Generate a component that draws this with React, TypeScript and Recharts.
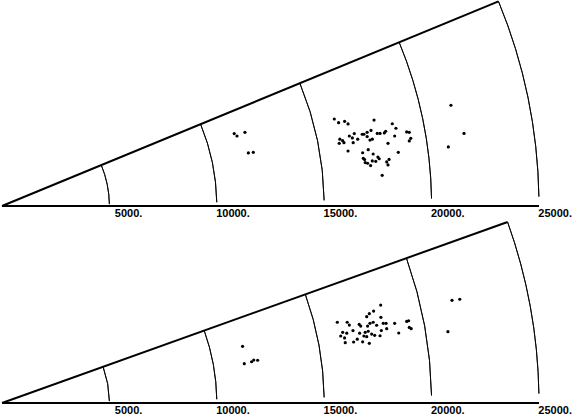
import { ScatterChart, Scatter, XAxis, YAxis, ReferenceLine, PieChart, Pie } from 'recharts';

// velocity (km/s) cone, x along the axis, y across it
const topX = [20900, 15470, 15670, 15950, 16110, 17320, 18170, 18340, 21510, 20780, 16170, 16400, 16310, 16560, 16350, 15730, 15860, 15700, 15920, 16770, 16850, 17000, 17180, 17000, 17130, 17240, 17470, 17600, 17800, 17860, 18280, 17970, 18840, 18960, 19030, 18960, 16110, 16790, 17050, 17280, 18450, 16820, 16880, 17500, 17560, 17240, 17400, 16910, 17020, 17160, 17910, 18020, 17970, 17700, 10810, 10940, 11310, 11470, 11700];
const topY = [4690, 4050, 3880, 3940, 3820, 4000, 3830, 3620, 3380, 2750, 3260, 3370, 3170, 3110, 2950, 3110, 3040, 2920, 2950, 3340, 3340, 3430, 3520, 3230, 3070, 3110, 3380, 3380, 3400, 3480, 3260, 2920, 3450, 3430, 3150, 3030, 2560, 2480, 2620, 2420, 2500, 2220, 2160, 2280, 2200, 2100, 2080, 2020, 1990, 1880, 2050, 2170, 1910, 1430, 3370, 3260, 3430, 2470, 2500];

const bottomX = [17630, 17300, 17100, 16980, 17640, 15610, 16070, 16170, 16630, 16700, 17130, 17280, 17020, 17440, 17750, 17880, 18280, 18840, 18930, 18960, 19050, 17910, 17660, 16340, 16650, 16910, 17050, 15860, 16050, 15770, 15950, 16850, 17210, 17350, 17600, 18470, 16540, 16370, 16790, 15980, 17100, 20950, 21310, 20760, 16980, 11200, 11280, 11620, 11720, 11900];
const bottomY = [4560, 4280, 4160, 4020, 3990, 3760, 3760, 3630, 3660, 3580, 3710, 3760, 3580, 3620, 3710, 3710, 3710, 3800, 3830, 3520, 3460, 3460, 3370, 3370, 3250, 3290, 3340, 3290, 3250, 3120, 3030, 3120, 3210, 3150, 3130, 3260, 2970, 2840, 2850, 2810, 2780, 4780, 4830, 3320, 3090, 2640, 1830, 1920, 2000, 1990];

const ringRadii = [5000, 10000, 15000, 20000, 25000];
const tickValues = [5000, 10000, 15000, 20000, 25000];

const MAX_V = 25000;
const PLOT_W = 537;
const K = PLOT_W / MAX_V;
const LEFT = 2;
const RIGHT = 574 - LEFT - PLOT_W;
const AXIS_H = 20;

const toPoints = (xs: number[], ys: number[]) => xs.map((x, i) => ({ x, y: ys[i] }));

const Tick = ({ x, y, payload }: any) => (
  <text x={x + 33} y={y} dy={3} textAnchor="end" fontFamily="'Liberation Sans', Arial, sans-serif" fontWeight="bold" fontSize={11} fill="#000">
    {payload.value}.
  </text>
);

const Dot = ({ cx, cy }: any) => <circle cx={cx} cy={cy} r={1.6} fill="#000" />;

const Wedge = ({ top, plotH, angle, xs, ys }: { top: number; plotH: number; angle: number; xs: number[]; ys: number[] }) => {
  const yMax = plotH / K;
  const rad = (angle * Math.PI) / 180;
  const h = plotH + AXIS_H;
  return (
    <div style={{ position: 'absolute', left: 0, top, width: 574, height: h }}>
      <div style={{ position: 'absolute', left: 0, top: 0 }}>
        <PieChart width={574} height={h} margin={{ top: 0, right: 0, bottom: 0, left: 0 }}>
          {ringRadii.map((r) => (
            <Pie
              key={r}
              data={[{ v: 1 }]}
              dataKey="v"
              cx={LEFT}
              cy={plotH}
              innerRadius={r * K}
              outerRadius={r * K}
              startAngle={1}
              endAngle={angle}
              fill="none"
              stroke="#000"
              strokeWidth={0.9}
              isAnimationActive={false}
            />
          ))}
        </PieChart>
      </div>
      <div style={{ position: 'absolute', left: 0, top: 0 }}>
        <ScatterChart width={574} height={h} margin={{ top: 0, right: RIGHT, bottom: 0, left: LEFT }}>
          <XAxis
            type="number"
            dataKey="x"
            domain={[0, MAX_V]}
            ticks={tickValues}
            height={AXIS_H}
            axisLine={{ stroke: '#000', strokeWidth: 2 }}
            tickLine={false}
            tick={<Tick />}
            interval={0}
          />
          <YAxis type="number" dataKey="y" domain={[0, yMax]} hide width={0} />
          <ReferenceLine
            segment={[
              { x: 0, y: 0 },
              { x: MAX_V * Math.cos(rad), y: MAX_V * Math.sin(rad) },
            ]}
            stroke="#000"
            strokeWidth={2}
          />
          <Scatter data={toPoints(xs, ys)} shape={<Dot />} isAnimationActive={false} />
        </ScatterChart>
      </div>
    </div>
  );
};

export default function App() {
  return (
    <div style={{ position: 'absolute', left: 0, top: 0, width: 574, height: 415, background: '#fff', overflow: 'hidden' }}>
      <Wedge top={0} plotH={206} angle={22.4} xs={topX} ys={topY} />
      <Wedge top={217} plotH={186} angle={19.7} xs={bottomX} ys={bottomY} />
    </div>
  );
}
